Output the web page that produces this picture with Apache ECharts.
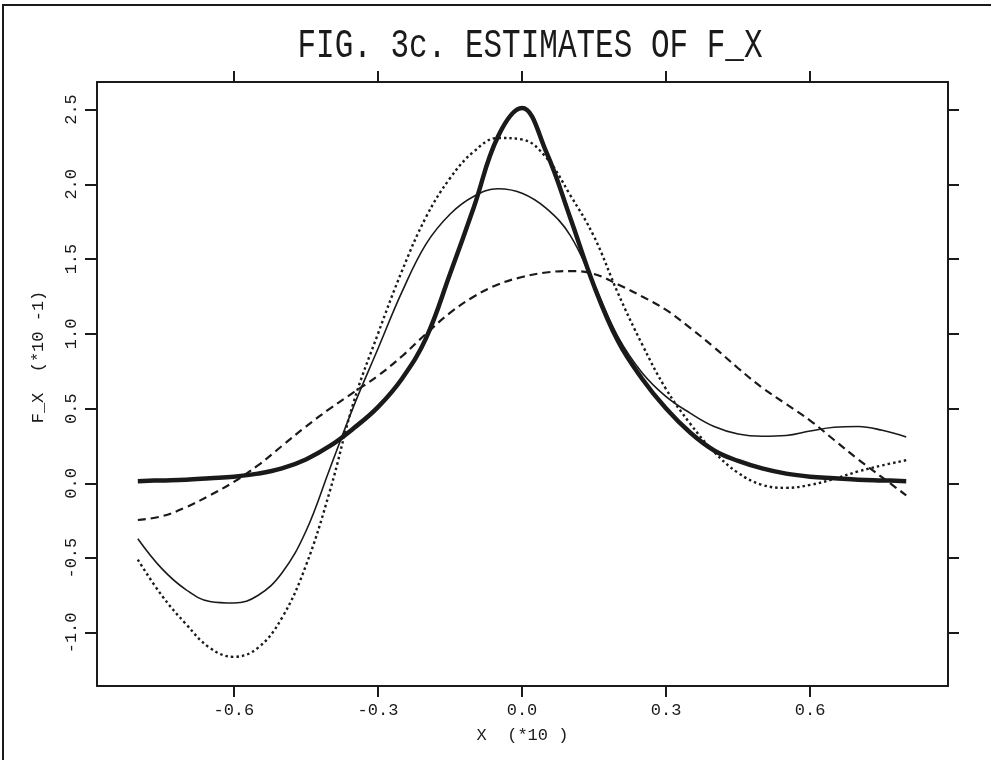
<!DOCTYPE html>
<html>
<head>
<meta charset="utf-8">
<script src="https://cdn.jsdelivr.net/npm/echarts@6/dist/echarts.min.js"></script>
<style>
html,body{margin:0;padding:0;background:#fff;}
#chart{width:991px;height:760px;}
</style>
</head>
<body>
<div id="chart"></div>
<script>
// x positions (X, units of *10)
const xs = [-0.80,-0.75,-0.70,-0.65,-0.60,-0.55,-0.50,-0.45,-0.40,-0.35,-0.30,-0.25,-0.20,-0.15,-0.10,-0.05,
            0.00,0.05,0.10,0.15,0.20,0.25,0.30,0.35,0.40,0.45,0.50,0.55,0.60,0.65,0.70,0.75,0.80];
// thick solid estimate
const thickVals = [0.015,0.02,0.025,0.035,0.045,0.065,0.10,0.16,0.25,0.37,0.51,0.70,0.97,1.40,1.85,2.32,
                   2.51,2.22,1.78,1.32,0.95,0.70,0.50,0.34,0.22,0.15,0.10,0.065,0.045,0.035,0.025,0.02,0.015];
// thin solid estimate
const thinVals = [-0.37,-0.57,-0.71,-0.79,-0.80,-0.75,-0.60,-0.32,0.10,0.52,0.90,1.28,1.60,1.80,1.92,1.97,
                  1.94,1.84,1.66,1.33,0.98,0.74,0.58,0.47,0.38,0.33,0.315,0.32,0.35,0.375,0.38,0.355,0.31];
// dotted estimate
const dottedVals = [-0.51,-0.75,-0.94,-1.10,-1.16,-1.10,-0.90,-0.55,-0.05,0.55,1.00,1.42,1.78,2.04,2.22,2.31,
                    2.30,2.18,1.93,1.65,1.27,0.93,0.63,0.40,0.21,0.07,-0.01,-0.03,-0.01,0.03,0.08,0.12,0.155];
// dashed estimate
const dashedVals = [-0.245,-0.22,-0.16,-0.08,0.01,0.12,0.25,0.38,0.50,0.61,0.72,0.85,1.00,1.14,1.25,1.33,
                    1.38,1.41,1.42,1.40,1.33,1.25,1.16,1.04,0.91,0.77,0.64,0.53,0.42,0.29,0.16,0.04,-0.08];
// tick labels
const xTicks = [-0.6,-0.3,0.0,0.3,0.6];
const yTicks = [-1.0,-0.5,0.0,0.5,1.0,1.5,2.0,2.5];

const pair = vals => xs.map((x,i)=>[x, vals[i]]);
const FONT = '"Liberation Mono", "DejaVu Sans Mono", monospace';
const INK = '#1a1a1a';

const chart = echarts.init(document.getElementById('chart'), null, {renderer:'canvas'});
const xCommon = {
  type:'value', min:-0.885, max:0.887, splitLine:{show:false},
  axisLine:{show:true, onZero:false, lineStyle:{color:INK, width:2}},
};
const yCommon = {
  type:'value', min:-1.355, max:2.684, splitLine:{show:false},
  axisLine:{show:true, onZero:false, lineStyle:{color:INK, width:2}},
};
chart.setOption({
  animation:false,
  backgroundColor:'#fff',
  grid:{left:97, right:43, top:82, bottom:74, containLabel:false},
  xAxis:[
    Object.assign({}, xCommon, {
      position:'bottom',
      axisTick:{show:true, inside:false, length:11, customValues:xTicks, lineStyle:{color:INK, width:2}},
      axisLabel:{show:true, customValues:xTicks, margin:16, color:INK, fontFamily:FONT, fontSize:17,
                 formatter:v=>Number(v).toFixed(1)},
      name:'X  (*10 )', nameLocation:'middle', nameGap:41,
      nameTextStyle:{color:INK, fontFamily:FONT, fontSize:17}
    }),
    Object.assign({}, xCommon, {
      position:'top',
      axisTick:{show:true, inside:false, length:11, customValues:xTicks, lineStyle:{color:INK, width:2}},
      axisLabel:{show:false}
    })
  ],
  yAxis:[
    Object.assign({}, yCommon, {
      position:'left',
      axisTick:{show:true, inside:false, length:12, customValues:yTicks, lineStyle:{color:INK, width:2}},
      axisLabel:{show:true, customValues:yTicks, rotate:90, margin:17, color:INK, fontFamily:FONT, fontSize:17,
                 formatter:v=>Number(v).toFixed(1)},
      name:'F_X  (*10 -1)', nameLocation:'middle', nameGap:50, nameRotate:90,
      nameTextStyle:{color:INK, fontFamily:FONT, fontSize:17, padding:[0,0,0,54]}
    }),
    Object.assign({}, yCommon, {
      position:'right',
      axisTick:{show:true, inside:false, length:11, customValues:yTicks, lineStyle:{color:INK, width:2}},
      axisLabel:{show:false}
    })
  ],
  series:[
    {type:'line', name:'dashed', data:pair(dashedVals), smooth:0.4, showSymbol:false,
     lineStyle:{color:INK, width:2.2, type:[8,5]}},
    {type:'line', name:'dotted', data:pair(dottedVals), smooth:0.4, showSymbol:false,
     lineStyle:{color:INK, width:2.4, type:[2.5,3]}},
    {type:'line', name:'thin', data:pair(thinVals), smooth:0.4, showSymbol:false,
     lineStyle:{color:INK, width:1.6, type:'solid'}},
    {type:'line', name:'thick', data:pair(thickVals), smooth:0.4, showSymbol:false,
     lineStyle:{color:INK, width:4.5, type:'solid'}}
  ],
  graphic:[
    {type:'text', x:530, y:46, scaleY:1.3,
     style:{text:'FIG. 3c. ESTIMATES OF F_X', fill:INK, font:'31px ' + FONT, align:'center', verticalAlign:'middle'}},
    {type:'polyline', shape:{points:[[3,760],[3,5],[991,5]]}, style:{stroke:INK, lineWidth:2, fill:null}}
  ]
});
</script>
</body>
</html>
